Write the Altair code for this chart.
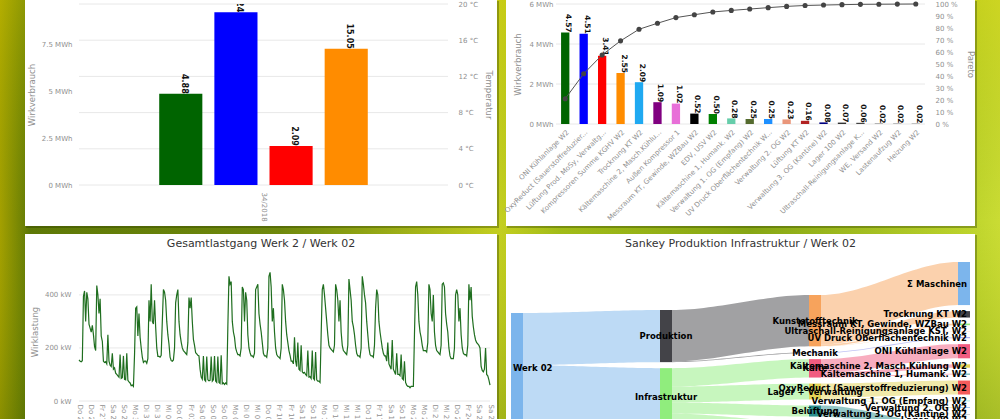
import json
import altair as alt
import numpy as np
import pandas as pd

FONT = "DejaVu Sans"
GRAY = "#8f8f8f"
GRID = "#e8e8e8"
TITLE_COLOR = "#333333"

# ---------------- data: weekly consumption (top left) ----------------
week_label = "34/2018"
week_series = ["Serie 1", "Serie 2", "Serie 3"]
week_values = [4.88, 9.24, 2.09]
week_colors = ["#006400", "#0000ff", "#ff0000"]
temp_name = "Temperatur"
temp_value = 15.05
temp_color = "#ff8c00"
week_mwh_ticks = [0, 2.5, 5, 7.5]
week_temp_ticks = [0, 4, 8, 12, 16, 20]

# ---------------- data: pareto (top right) ----------------
pareto_names = [
    "ONI Kühlanlage W2", "OxyReduct (Sauerstoffreduzier...", "Lüftung Prod. MoSy, Verwaltg...",
    "Kompressoren Summe KGHV W2", "Trocknung KT W2", "Kältemaschine 2, Masch.Kühlu...",
    "Außen Kompressor 1", "Messraum KT, Gewinde, WZBau W2", "EDV, USV W2",
    "Kältemaschine 1, Humank. W2", "Verwaltung 1. OG (Empfang) W2", "UV Druck Oberflächentechnik W...",
    "Verwaltung 2. OG W2", "Lüftung KT W2", "Verwaltung 3. OG (Kantine) W2", "Lager 100 W2",
    "Ultraschall-Reinigungsanlage K...", "WE, Versand W2", "Lastenaufzug W2", "Heizung W2",
]
pareto_values = [4.57, 4.51, 3.41, 2.55, 2.09, 1.09, 1.02, 0.52, 0.50, 0.28,
                 0.25, 0.25, 0.23, 0.16, 0.08, 0.07, 0.06, 0.02, 0.02, 0.02]
pareto_colors = ["#006400", "#0000ff", "#ff0000", "#ff8c00", "#1fa9f1", "#800080", "#e86fd8",
                 "#000000", "#008000", "#66cdaa", "#556b2f", "#1e90ff", "#e9967a", "#b22222",
                 "#000080", "#333333", "#444444", "#555555", "#666666", "#777777"]
pareto_mwh_ticks = [0, 2, 4, 6]
pareto_pct_ticks = list(range(0, 101, 10))

# ---------------- data: load profile (bottom left), kW every 2 hours ----------------
load_start = "2018-07-26 00:00"
load_days = [
    [155, 150, 148, 152, 395, 415, 300, 410, 385, 290, 275, 260],
    [285, 250, 205, 190, 435, 400, 330, 385, 245, 225, 150, 145],
    [148, 140, 250, 150, 135, 130, 180, 120, 125, 105, 100, 95],
    [90, 175, 85, 88, 170, 82, 80, 180, 78, 72, 68, 58],
    [60, 55, 175, 350, 355, 245, 330, 240, 200, 165, 145, 150],
    [150, 142, 160, 380, 300, 440, 300, 290, 380, 280, 200, 168],
    [168, 165, 172, 300, 420, 410, 380, 300, 250, 215, 165, 152],
    [150, 155, 200, 370, 400, 420, 300, 250, 222, 200, 190, 185],
    [180, 175, 220, 390, 350, 390, 300, 232, 210, 182, 178, 172],
    [170, 120, 90, 82, 170, 80, 75, 168, 80, 76, 78, 168],
    [75, 80, 170, 75, 70, 168, 70, 66, 172, 65, 68, 62],
    [68, 64, 280, 470, 440, 450, 300, 260, 240, 200, 185, 175],
    [175, 170, 200, 430, 420, 300, 410, 380, 250, 200, 182, 170],
    [170, 165, 180, 420, 430, 440, 330, 290, 260, 220, 180, 170],
    [170, 165, 200, 470, 485, 430, 300, 350, 260, 200, 175, 168],
    [165, 160, 200, 440, 420, 380, 300, 250, 220, 190, 172, 150],
    [150, 140, 240, 150, 130, 220, 120, 115, 210, 110, 105, 108],
    [100, 95, 190, 90, 92, 85, 190, 86, 80, 185, 80, 75],
    [75, 70, 250, 420, 440, 400, 350, 300, 250, 210, 200, 195],
    [190, 185, 210, 440, 420, 380, 300, 380, 260, 210, 190, 185],
    [180, 175, 210, 460, 420, 380, 300, 280, 250, 210, 180, 170],
    [170, 165, 200, 470, 440, 400, 370, 300, 250, 200, 175, 170],
    [170, 165, 210, 350, 420, 400, 300, 260, 230, 200, 180, 170],
    [170, 150, 220, 140, 130, 120, 230, 120, 110, 100, 180, 100],
    [100, 95, 175, 85, 80, 150, 70, 60, 55, 55, 50, 55],
    [55, 55, 250, 430, 450, 400, 300, 260, 240, 210, 190, 190],
    [190, 185, 220, 440, 420, 330, 300, 400, 260, 210, 190, 185],
    [180, 175, 210, 440, 445, 430, 330, 290, 260, 200, 170, 160],
    [160, 160, 200, 400, 420, 400, 300, 350, 250, 200, 180, 175],
    [175, 170, 210, 440, 380, 430, 320, 280, 250, 230, 220, 215],
    [210, 200, 130, 115, 110, 120, 200, 100, 95, 80, 60],
]
load_kw_ticks = [0, 200, 400]
weekday_de = ["So", "Mo", "Di", "Mi", "Do", "Fr", "Sa"]

# ---------------- data: sankey (bottom right) ----------------
sankey_root = "Werk 02"
sankey_areas = ["Produktion", "Infrastruktur"]
sankey_groups = ["Kunststofftechnik", "Mechanik", "Kälte", "Lager + Verwaltung", "Belüftung", "Druckluft", "IT"]
sankey_group_area = ["Produktion", "Produktion", "Infrastruktur", "Infrastruktur", "Infrastruktur",
                     "Infrastruktur", "Infrastruktur"]
sankey_leaves = [
    "Σ Maschinen", "Trocknung KT W2", "Messraum KT, Gewinde, WZBau W2",
    "Ultraschall-Reinigungsanlage KST, W2", "UV Druck Oberflächentechnik W2", "ONI Kühlanlage W2",
    "Kältemaschine 2, Masch.Kühlung W2", "Kältemaschine 1, Humank. W2",
    "OxyReduct (Sauerstoffreduzierung) W2", "Verwaltung 1. OG (Empfang) W2", "Verwaltung 2. OG W2",
    "Verwaltung 3. OG (Kantine) W2", "Lager 100 W2", "Lüftung Prod. MoSy, Verwaltg. W2",
    "Lüftung KT W2", "Kompressoren Summe KGHV W2", "Außen Kompressor 1", "EDV, USV W2",
]
sankey_leaf_group = [
    "Kunststofftechnik", "Kunststofftechnik", "Kunststofftechnik", "Kunststofftechnik", "Mechanik",
    "Kälte", "Kälte", "Kälte", "Lager + Verwaltung", "Lager + Verwaltung", "Lager + Verwaltung",
    "Lager + Verwaltung", "Lager + Verwaltung", "Belüftung", "Belüftung", "Druckluft", "Druckluft", "IT",
]
sankey_leaf_values = [13.9, 2.09, 0.52, 0.06, 0.25, 4.57, 1.09, 0.28, 4.51, 0.25, 0.23, 0.08, 0.07,
                      3.41, 0.16, 2.55, 1.02, 0.50]
sankey_palette = ["#7cb5ec", "#434348", "#90ed7d", "#f7a35c", "#8085e9",
                  "#f15c80", "#e4d354", "#2b908f", "#f45b5b", "#91e8e1"]

# ---------------- page layout (pixels) ----------------
LEFT_X, RIGHT_X = 79, 556
TOP_Y, BOTTOM_Y = 4, 262
SIZE_A = (369, 181)
SIZE_B = (369, 120)
SIZE_C = (411, 139)
SIZE_D = (414, 198)
PAGE_W, PAGE_H = 1000, 490
CARD_A = (25, 497, 0, 226)
CARD_B = (506, 975, 0, 226)
CARD_C = (25, 497, 234, 490)
CARD_D = (506, 975, 234, 490)
COL_SPACING = RIGHT_X - LEFT_X - max(SIZE_A[0], SIZE_C[0])
ROW_SPACING = BOTTOM_Y - TOP_Y - max(SIZE_A[1], SIZE_B[1])

one = pd.DataFrame({"k": [0]})


def page_rect(box, ox, oy, **mark):
    x0, x1, y0, y1 = box
    return alt.Chart(one).mark_rect(**mark).encode(
        x=alt.value(x0 - ox), x2=alt.value(x1 - ox), y=alt.value(y0 - oy), y2=alt.value(y1 - oy))


def card(box, ox, oy):
    x0, x1, y0, y1 = box
    shadow = page_rect((x0 + 1, x1 + 2, y0 + 1, y1 + 2), ox, oy, color="#2a3a00", opacity=0.35)
    white = page_rect(box, ox, oy, color="#ffffff")
    return [shadow, white]


def page_text(text, x, y, ox, oy, **mark):
    return alt.Chart(pd.DataFrame({"t": [text]})).mark_text(**mark).encode(
        text="t:N", x=alt.value(x - ox), y=alt.value(y - oy))


def suffix_axis(orient, values, suffix, title, label_pad, title_pad):
    return alt.Axis(orient=orient, values=values, labelExpr=f"datum.value + ' {suffix}'",
                    title=title, labelPadding=label_pad, titlePadding=title_pad, labelOverlap=False,
                    zindex=1)


bar_label = dict(angle=90, align="right", baseline="middle", dy=-3, font=FONT,
                 fontWeight="bold", color="#111111")

# ---------------- background ----------------
bg_h = alt.Gradient(gradient="linear", x1=0, x2=1, y1=0, y2=0, stops=[
    alt.GradientStop(color="#a4a000", offset=0.0),
    alt.GradientStop(color="#5d7806", offset=0.03),
    alt.GradientStop(color="#6e880c", offset=0.28),
    alt.GradientStop(color="#c4cf20", offset=0.5),
    alt.GradientStop(color="#a2bc18", offset=0.56),
    alt.GradientStop(color="#86a614", offset=0.75),
    alt.GradientStop(color="#bdd42c", offset=0.97),
    alt.GradientStop(color="#cadc34", offset=1.0),
])
bg_v = alt.Gradient(gradient="linear", x1=0, x2=0, y1=0, y2=1, stops=[
    alt.GradientStop(color="rgba(210,200,0,0.35)", offset=0.0),
    alt.GradientStop(color="rgba(140,160,0,0.0)", offset=0.45),
    alt.GradientStop(color="rgba(20,60,0,0.3)", offset=1.0),
])
bg_layers = [
    page_rect((0, PAGE_W, 0, PAGE_H), LEFT_X, TOP_Y, fill=bg_h),
    page_rect((0, PAGE_W, 0, PAGE_H), LEFT_X, TOP_Y, fill=bg_v),
]

# ---------------- panel A ----------------
dfA = pd.DataFrame({"Woche": [week_label] * len(week_series), "Serie": week_series,
                    "Wirkverbrauch": week_values, "Farbe": week_colors})
dfT = pd.DataFrame({"Woche": [week_label], "Serie": [temp_name], "Temperatur": [temp_value],
                    "Farbe": [temp_color]})
xA = alt.X("Woche:N", title=None, scale=alt.Scale(paddingInner=0, paddingOuter=0.3364),
           axis=alt.Axis(labelAngle=90, labelFontSize=7, labelPadding=7, zindex=1))
xoA = alt.XOffset("Serie:N", scale=alt.Scale(domain=week_series + [temp_name],
                                             paddingInner=0.218, paddingOuter=0.109))
yT = alt.Y("Temperatur:Q", stack=None, scale=alt.Scale(domain=[0, 20], nice=False),
           axis=suffix_axis("right", week_temp_ticks, "°C", "Temperatur", 10, 6))
yA = alt.Y("Wirkverbrauch:Q", stack=None, scale=alt.Scale(domain=[0, 9.68], nice=False),
           axis=suffix_axis("left", week_mwh_ticks, "MWh", "Wirkverbrauch", 7, 5))

gridA = alt.Chart(pd.DataFrame({"Temperatur": week_temp_ticks})).mark_rule(
    color=GRID, strokeWidth=1).encode(y=yT)
barT = alt.Chart(dfT).mark_bar().encode(x=xA, xOffset=xoA, y=yT, color=alt.Color("Farbe:N", scale=None))
txtT = alt.Chart(dfT).mark_text(fontSize=8, clip=True, **bar_label).encode(
    x=xA, xOffset=xoA, y=yT, text=alt.Text("Temperatur:Q", format=".2f"))
barA = alt.Chart(dfA).mark_bar().encode(x=xA, xOffset=xoA, y=yA, color=alt.Color("Farbe:N", scale=None))
txtA = alt.Chart(dfA).mark_text(fontSize=8, clip=True, **bar_label).encode(
    x=xA, xOffset=xoA, y=yA, text=alt.Text("Wirkverbrauch:Q", format=".2f"))

panelA = alt.layer(
    alt.layer(*bg_layers, *card(CARD_A, LEFT_X, TOP_Y), gridA, barT, txtT),
    alt.layer(barA, txtA),
).resolve_scale(y="independent").properties(width=SIZE_A[0], height=SIZE_A[1])

# ---------------- panel B ----------------
dfP = pd.DataFrame({"Verbraucher": pareto_names, "Wirkverbrauch": pareto_values,
                    "Farbe": pareto_colors, "Rang": list(range(len(pareto_names)))})
xP = alt.X("Verbraucher:N", sort=pareto_names, title=None,
           scale=alt.Scale(paddingInner=0.55, paddingOuter=0.275),
           axis=alt.Axis(labelAngle=-45, labelFontSize=7, labelPadding=4, labelLimit=220,
                         labelOverlap=False, zindex=1))
yP = alt.Y("Wirkverbrauch:Q", stack=None, scale=alt.Scale(domain=[0, 6], nice=False),
           axis=suffix_axis("left", pareto_mwh_ticks, "MWh", "Wirkverbrauch", 3, 6))
yPct = alt.Y("Pareto:Q", scale=alt.Scale(domain=[0, 100], nice=False),
             axis=suffix_axis("right", pareto_pct_ticks, "%", "Pareto", 10, 8))
gridP = alt.Chart(pd.DataFrame({"Wirkverbrauch": pareto_mwh_ticks})).mark_rule(
    color=GRID, strokeWidth=1).encode(y=yP)
barP = alt.Chart(dfP).mark_bar().encode(x=xP, y=yP, color=alt.Color("Farbe:N", scale=None))
txtP = alt.Chart(dfP).mark_text(fontSize=7.5, **bar_label).encode(
    x=xP, y=yP, text=alt.Text("Wirkverbrauch:Q", format=".2f"))
cum = alt.Chart(dfP).transform_window(
    Kumuliert="sum(Wirkverbrauch)", sort=[alt.SortField("Rang")], frame=[None, 0]
).transform_joinaggregate(Gesamt="sum(Wirkverbrauch)").transform_calculate(
    Pareto="100 * datum.Kumuliert / datum.Gesamt")
lineP = cum.mark_line(color="#555555", strokeWidth=1).encode(x=xP, y=yPct)
ptsP = cum.mark_circle(color="#444444", size=26, opacity=1).encode(x=xP, y=yPct)

panelB = alt.layer(
    alt.layer(*card(CARD_B, RIGHT_X, TOP_Y), gridP, barP, txtP),
    alt.layer(lineP, ptsP),
).resolve_scale(y="independent").properties(width=SIZE_B[0], height=SIZE_B[1])

# ---------------- panel C ----------------
load_vals = [v for day in load_days for v in day]
load_times = pd.date_range(pd.Timestamp(load_start), periods=len(load_vals), freq="2h")
dfL = pd.DataFrame({"Zeit": load_times.strftime("%Y-%m-%dT%H:%M:%S"), "Wirklastung": load_vals})
tick_times = pd.date_range(load_times[0], load_times[-1], freq="20h")
tick_values = [alt.DateTime(year=t.year, month=t.month, date=t.day, hours=t.hour) for t in tick_times]
xL = alt.X("Zeit:T", title=None, scale=alt.Scale(nice=False),
           axis=alt.Axis(values=tick_values, labelAngle=90, labelFontSize=7, labelPadding=3,
                         labelOverlap=False, zindex=1,
                         labelExpr=json.dumps(weekday_de) + "[day(datum.value)] + ' ' + timeFormat(datum.value, '%d.%m.')"))
yL = alt.Y("Wirklastung:Q", scale=alt.Scale(domain=[0, 524], nice=False),
           axis=suffix_axis("left", load_kw_ticks, "kW", "Wirklastung", 8, 5))
gridL = alt.Chart(pd.DataFrame({"Wirklastung": load_kw_ticks})).mark_rule(
    color=GRID, strokeWidth=1).encode(y=yL)
lineL = alt.Chart(dfL).mark_line(color="#1f6e1f", strokeWidth=1.2).encode(x=xL, y=yL)
titleC = page_text("Gesamtlastgang Werk 2 / Werk 02", (CARD_C[0] + CARD_C[1]) / 2, 244, LEFT_X, BOTTOM_Y,
                   font=FONT, fontSize=11, color=TITLE_COLOR, baseline="middle", align="center")
panelC = alt.layer(*card(CARD_C, LEFT_X, BOTTOM_Y), titleC, gridL, lineL).properties(
    width=SIZE_C[0], height=SIZE_C[1])

# ---------------- panel D: sankey layout ----------------
K_PX = 3.1          # pixels per MWh
PAD_PX = 6          # node padding
NODE_W_PX = 12
COL_STEP_PX = 149
SANKEY_X0 = 511     # page x of first node column

group_sum = {g: 0.0 for g in sankey_groups}
for leaf_g, v in zip(sankey_leaf_group, sankey_leaf_values):
    group_sum[leaf_g] += v
area_sum = {a: 0.0 for a in sankey_areas}
for g, a in zip(sankey_groups, sankey_group_area):
    area_sum[a] += group_sum[g]

nodes = [sankey_root] + sankey_areas + sankey_groups + sankey_leaves
column = {sankey_root: 0}
column.update({a: 1 for a in sankey_areas})
column.update({g: 2 for g in sankey_groups})
column.update({leaf: 3 for leaf in sankey_leaves})
order = {n: i for i, n in enumerate(nodes)}
links = [(sankey_root, a, area_sum[a]) for a in sankey_areas]
links += [(a, g, group_sum[g]) for g, a in zip(sankey_groups, sankey_group_area)]
links += [(g, leaf, v) for leaf, g, v in zip(sankey_leaves, sankey_leaf_group, sankey_leaf_values)]

out_sum = {n: 0.0 for n in nodes}
in_sum = {n: 0.0 for n in nodes}
for s, t, v in links:
    out_sum[s] += v
    in_sum[t] += v
value = {n: max(out_sum[n], in_sum[n]) for n in nodes}
pad = PAD_PX / K_PX
cols = [[n for n in nodes if column[n] == c] for c in range(4)]
col_h = [sum(value[n] for n in cn) + pad * (len(cn) - 1) for cn in cols]
max_h = max(col_h)
y0 = {}
for c, cn in enumerate(cols):
    y = (max_h - col_h[c]) / 2
    for n in cn:
        y0[n] = y
        y += value[n] + pad

nw = NODE_W_PX / COL_STEP_PX
out_off = {n: y0[n] for n in nodes}
in_off = {n: y0[n] for n in nodes}
src_pos, tgt_pos = {}, {}
for s, t, v in sorted(links, key=lambda l: (order[l[0]], order[l[1]])):
    src_pos[(s, t)] = out_off[s]
    out_off[s] += v
for s, t, v in sorted(links, key=lambda l: (order[l[1]], order[l[0]])):
    tgt_pos[(s, t)] = in_off[t]
    in_off[t] += v

rows = []
T = np.linspace(0, 1, 31)
for i, (s, t, v) in enumerate(links):
    xs, xt = column[s] + nw, column[t]
    curvy = (xt - xs) * 0.33
    bx = (1 - T) ** 3 * xs + 3 * (1 - T) ** 2 * T * (xs + curvy) + 3 * (1 - T) * T ** 2 * (xt - curvy) + T ** 3 * xt
    ease = 3 * T ** 2 - 2 * T ** 3
    ys, yt = src_pos[(s, t)], tgt_pos[(s, t)]
    color = sankey_palette[order[s] % len(sankey_palette)]
    for xx, e in zip(bx, ease):
        rows.append({"link": i, "px": xx, "top": ys + (yt - ys) * e,
                     "bottom": ys + v + (yt - ys) * e, "color": color})
dfLinks = pd.DataFrame(rows)
dfNodes = pd.DataFrame({
    "name": nodes,
    "col": [column[n] for n in nodes],
    "px": [column[n] for n in nodes],
    "px2": [column[n] + nw for n in nodes],
    "pxc": [column[n] + nw / 2 for n in nodes],
    "y0": [y0[n] for n in nodes],
    "y1": [y0[n] + value[n] for n in nodes],
    "ly": [y0[n] + value[n] / 2 for n in nodes],
    "color": [sankey_palette[i % len(sankey_palette)] for i in range(len(nodes))],
})

xsD = alt.Scale(domain=[0, 3 + nw], range=[SANKEY_X0 - RIGHT_X, SIZE_D[0]], nice=False, zero=False)
ysD = alt.Scale(domain=[0, max_h], range=[0, max_h * K_PX], nice=False, zero=False)
linkD = alt.Chart(dfLinks).mark_area(opacity=0.5).encode(
    x=alt.X("px:Q", scale=xsD, axis=None),
    y=alt.Y("top:Q", scale=ysD, axis=None, stack=None),
    y2="bottom:Q",
    color=alt.Color("color:N", scale=None),
    detail="link:N",
)
nodeD = alt.Chart(dfNodes).mark_rect().encode(
    x=alt.X("px:Q", scale=xsD, axis=None), x2="px2:Q",
    y=alt.Y("y0:Q", scale=ysD, axis=None), y2="y1:Q",
    color=alt.Color("color:N", scale=None),
)
lab = dict(font=FONT, fontSize=8.5, fontWeight="bold", color="#000000", baseline="middle")
labL = alt.Chart(dfNodes[dfNodes.col == 0]).mark_text(align="left", dx=2, **lab).encode(
    x=alt.X("px:Q", scale=xsD, axis=None), y=alt.Y("ly:Q", scale=ysD, axis=None), text="name:N")
labC = alt.Chart(dfNodes[(dfNodes.col == 1) | (dfNodes.col == 2)]).mark_text(align="center", **lab).encode(
    x=alt.X("pxc:Q", scale=xsD, axis=None), y=alt.Y("ly:Q", scale=ysD, axis=None), text="name:N")
labR = alt.Chart(dfNodes[dfNodes.col == 3]).mark_text(align="right", dx=-3, **lab).encode(
    x=alt.X("px2:Q", scale=xsD, axis=None), y=alt.Y("ly:Q", scale=ysD, axis=None), text="name:N")
titleD = page_text("Sankey Produktion Infrastruktur / Werk 02", (CARD_D[0] + CARD_D[1]) / 2, 244,
                   RIGHT_X, BOTTOM_Y, font=FONT, fontSize=11, color=TITLE_COLOR,
                   baseline="middle", align="center")
panelD = alt.layer(*card(CARD_D, RIGHT_X, BOTTOM_Y), titleD, linkD, nodeD, labL, labC, labR).properties(
    width=SIZE_D[0], height=SIZE_D[1])

# ---------------- assemble ----------------
chart = alt.concat(
    panelA, panelB, panelC, panelD,
    columns=2, bounds="flush", align="each",
    spacing={"row": ROW_SPACING, "column": COL_SPACING},
).properties(
    padding=0, background="#7a9410"
).configure_axis(
    labelFont=FONT, titleFont=FONT, labelColor=GRAY, titleColor=GRAY,
    labelFontSize=7, titleFontSize=8.5, titleFontWeight="normal",
    domain=False, ticks=False, tickSize=0, grid=False,
).configure_view(strokeOpacity=0)

chart.save("out.html", embed_options={"renderer": "svg", "actions": False})
